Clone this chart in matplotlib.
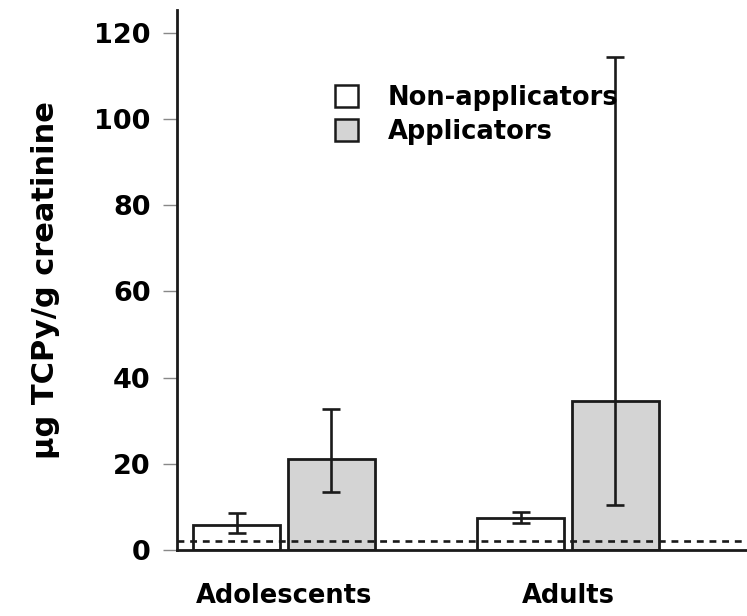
import matplotlib
matplotlib.use('Agg')
import numpy as np
import matplotlib.pyplot as plt
from matplotlib.patches import Patch

plt.rcParams['font.family'] = 'DejaVu Sans'

# values (ug TCPy/g creatinine)
groups = ['Adolescents', 'Adults']
series = ['Non-applicators', 'Applicators']
non_app = [5.8, 7.4]
non_app_lo = [3.9, 6.3]
non_app_hi = [8.6, 8.8]
app = [21.1, 34.6]
app_lo = [13.5, 10.4]
app_hi = [32.7, 114.4]
lod = 2.0  # dashed reference line
yticks = [0, 20, 40, 60, 80, 100, 120]

W, H = 747, 616
fig = plt.figure(figsize=(W / 100, H / 100), dpi=100)
ax = fig.add_axes([177 / W, 66 / H, (W - 177) / W, 540 / H])

x = np.arange(1, len(groups) + 1)
bw = 0.306
off = 0.166
ec = '#1a1a1a'

def errs(mid, lo, hi):
    mid, lo, hi = np.array(mid), np.array(lo), np.array(hi)
    return np.vstack([mid - lo, hi - mid])

ax.bar(x - off, non_app, bw, color='white', edgecolor=ec, linewidth=2.0, zorder=2)
ax.bar(x + off, app, bw, color='#d4d4d4', edgecolor=ec, linewidth=2.0, zorder=2)
ax.errorbar(x - off, non_app, yerr=errs(non_app, non_app_lo, non_app_hi), fmt='none',
            ecolor=ec, elinewidth=1.9, capsize=6.5, capthick=1.9, zorder=3)
ax.errorbar(x + off, app, yerr=errs(app, app_lo, app_hi), fmt='none',
            ecolor=ec, elinewidth=1.9, capsize=6.5, capthick=1.9, zorder=3)

ax.axhline(lod, color=ec, linewidth=1.9, linestyle=(0, (2.6, 2.2)), zorder=4)

ax.set_xlim(0.623, 0.623 + (W - 177) / 284)
ax.set_ylim(0, 125.3)
ax.set_yticks(yticks)
ax.set_yticklabels([str(t) for t in yticks], fontsize=19.5, fontweight='bold')
ax.set_xticks(x)
ax.set_xticklabels(groups, fontsize=18.5, fontweight='bold')
ax.tick_params(axis='y', length=10, width=1.0, color='#888888', pad=9)
ax.tick_params(axis='x', length=0, pad=24)

for s in ['top', 'right']:
    ax.spines[s].set_visible(False)
for s in ['left', 'bottom']:
    ax.spines[s].set_linewidth(2.0)
    ax.spines[s].set_color(ec)

ax.set_ylabel('µg TCPy/g creatinine', fontsize=22, fontweight='bold')
ax.yaxis.set_label_coords(-0.205, 0.5)

handles = [Patch(facecolor='white', edgecolor=ec, linewidth=1.8),
           Patch(facecolor='#d4d4d4', edgecolor=ec, linewidth=1.8)]
ax.legend(handles, series, loc='upper left', bbox_to_anchor=(335 / W, 1 - 85 / H),
          bbox_transform=fig.transFigure, frameon=False, prop={'size': 18.5, 'weight': 'bold'},
          handlelength=0.9, handleheight=0.9, handletextpad=1.15, labelspacing=0.3,
          borderpad=0, borderaxespad=0)

fig.savefig('out.png', dpi=100)
